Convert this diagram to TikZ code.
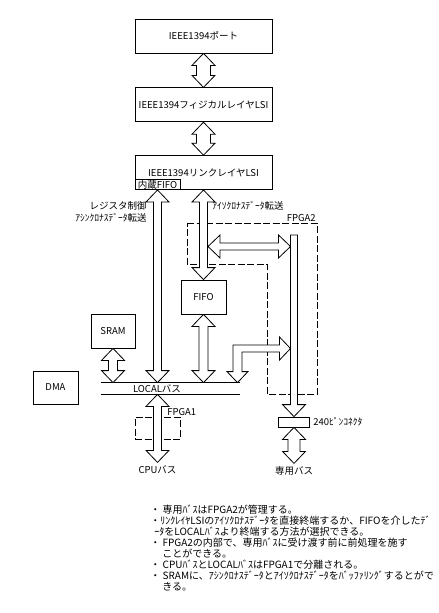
\documentclass[tikz,border=0pt]{standalone}
\usepackage{fontspec}
\setmainfont{Noto Sans CJK JP}
\usepackage{tikz}
\usetikzlibrary{positioning,calc}
\tikzstyle{block} = [rectangle, draw, minimum height=34pt, inner sep=1pt]
\tikzstyle{bus} = [draw, fill=white]
\tikzstyle{fpga} = [draw, dash pattern=on 7pt off 2.5pt]
\tikzstyle{lbl} = [inner sep=1pt]

% hollow double arrow, vertical: [shaft half width]{top tip}{bottom tip}
\newcommand{\busv}[3][7]{%
  \path[bus] (#2) -- ++(11.5,12) -- ($(#2)+(#1,12)$) -- ($(#3)+(#1,-12)$)
    -- ++({11.5-#1},0) -- (#3) -- ++(-11.5,-12) -- ($(#3)+(-#1,-12)$)
    -- ($(#2)+(-#1,12)$) -- ++({#1-11.5},0) -- cycle;}
% hollow double arrow, horizontal: [shaft half width]{left tip}{right tip}
\newcommand{\bush}[3][3.5]{%
  \path[bus] (#2) -- ++(12,-11.5) -- ($(#2)+(12,-#1)$) -- ($(#3)+(-12,-#1)$)
    -- ++(0,{#1-11.5}) -- (#3) -- ++(-12,11.5) -- ($(#3)+(-12,#1)$)
    -- ($(#2)+(12,#1)$) -- ++(0,{11.5-#1}) -- cycle;}

\begin{document}
\begin{tikzpicture}[x=1pt, y=-1pt, line width=0.8pt,
    font=\fontsize{9.5}{11}\selectfont]
    \useasboundingbox (0,0) rectangle (439,613);

    % IEEE1394 chain
    \node [block, minimum width=137pt] (port) at (203.5,36) {IEEE1394ポート};
    \node [block, minimum width=137pt, below=34pt of port] (phy) {IEEE1394フィジカルレイヤLSI};
    \node [block, minimum width=137pt, below=33pt of phy] (link) {IEEE1394リンクレイヤLSI};
    \node [draw, anchor=south west, inner sep=0.5pt, minimum width=45pt,
        minimum height=10pt] (infifo) at (link.south west) {内蔵FIFO};

    % Other blocks
    \node [block, minimum width=45pt] (fifo) at (203.5,297) {FIFO};
    \node [block, minimum width=44pt] (sram) at (113,331) {SRAM};
    \node [block, minimum width=45pt, minimum height=33pt] (dma) at (55.5,387.5) {DMA};
    \node [fpga, minimum width=45pt, minimum height=22pt] (fpga1) at (157.5,428) {};
    \node [draw, minimum width=31pt, minimum height=10pt, inner sep=0pt] (conn) at (294,422) {};
    \node [lbl, right=2pt of conn] {240ﾋﾟﾝｺﾈｸﾀ};

    % LOCAL bus
    \node [minimum width=139pt, minimum height=11pt, inner sep=0pt] (local) at (170.5,388.5) {};
    \draw (local.north west) -- (local.north east) (local.south west) -- (local.south east);
    \node [lbl] at (157,388.5) {LOCALバス};

    % FPGA2 area
    \draw [fpga] (187,223) -- (317,223) -- (317,394) -- (267,394) -- (267,264) -- (187,264) -- cycle;
    \node [lbl, anchor=south east] at (317,223) {FPGA2};

    % Labels
    \node [lbl, anchor=east] at (148,206) {レジスタ制御};
    \node [lbl, anchor=east] at (148,218) {ｱｼﾝｸﾛﾅｽﾃﾞｰﾀ転送};
    \node [lbl, anchor=west] at (211,206) {ｱｲｿｸﾛﾅｽﾃﾞｰﾀ転送};
    \node [lbl, anchor=west] at (166,412) {FPGA1};

    % Arrow ends
    \coordinate (regtop) at (157.5,0 |- link.south);
    \coordinate (regbot) at (157.5,0 |- local.north);
    \coordinate (isotop) at (fifo.north |- link.south);
    \coordinate (fifobot) at (fifo.south |- local.north);
    \coordinate (srambot) at (sram.south |- local.north);
    \coordinate (cputop) at (fpga1.north |- local.south);
    \coordinate (cpuend) at ($(fpga1.south)+(0,23)$);
    \coordinate (dedend) at ($(conn.south)+(0,36)$);
    \coordinate (isoright) at (208,246.5);
    \coordinate (barleft) at (290.5,246.5);
    \coordinate (bartop) at (294,235);
    \coordinate (lbend) at (237.5,348.5);
    \coordinate (lfoot) at (lbend |- local.north);
    \coordinate (lhead) at (barleft |- lbend);

    % Draw bus arrows
    \busv{port.south}{phy.north}
    \busv{phy.south}{link.north}
    \busv[4]{regtop}{regbot}
    \busv[4]{isotop}{fifo.north}
    \busv[4.5]{fifo.south}{fifobot}
    \busv[4.5]{sram.south}{srambot}
    \busv[4]{cputop}{cpuend}
    \busv[6]{conn.south}{dedend}
    \bush{isoright}{barleft}
    \path [bus] (conn.north) -- ++(-11.5,-12) -- ++(8,0) |- ($(bartop)+(3.5,0)$)
        -- ($(conn.north)+(3.5,-12)$) -- ++(8,0) -- cycle;
    \path [bus] (lfoot) -- ++(-10.5,-11) -- ++(6,0) |- ($(lhead)+(-11,-3.5)$) -- ++(0,-8)
        -- (lhead) -- ++(-11,11.5) -- ++(0,-8) -| ($(lfoot)+(4.5,-11)$) -- ++(6,0) -- cycle;

    \node [lbl, below=2pt of cpuend] {CPUバス};
    \node [lbl, below=2pt of dedend] {専用バス};

    % Notes
    \node [anchor=north west, align=left, inner sep=0pt,
        font=\fontsize{10}{11}\selectfont] (notes) at (150,505) {%
        ・ 専用ﾊﾞｽはFPGA2が管理する。\\
        ・ﾘﾝｸﾚｲﾔLSIのｱｲｿｸﾛﾅｽﾃﾞｰﾀを直接終端するか、FIFOを介したﾃﾞ\\
        \hspace*{0.4em}ｰﾀをLOCALﾊﾞｽより終端する方法が選択できる。\\
        ・ FPGA2の内部で、専用ﾊﾞｽに受け渡す前に前処理を施す\\
        \hspace*{1.2em}ことができる。\\
        ・ CPUﾊﾞｽとLOCALﾊﾞｽはFPGA1で分離される。\\
        ・ SRAMに、ｱｼﾝｸﾛﾅｽﾃﾞｰﾀとｱｲｿｸﾛﾅｽﾃﾞｰﾀをﾊﾞｯﾌｧﾘﾝｸﾞするとがで\\
        \hspace*{1.2em}きる。};
\end{tikzpicture}
\end{document}
